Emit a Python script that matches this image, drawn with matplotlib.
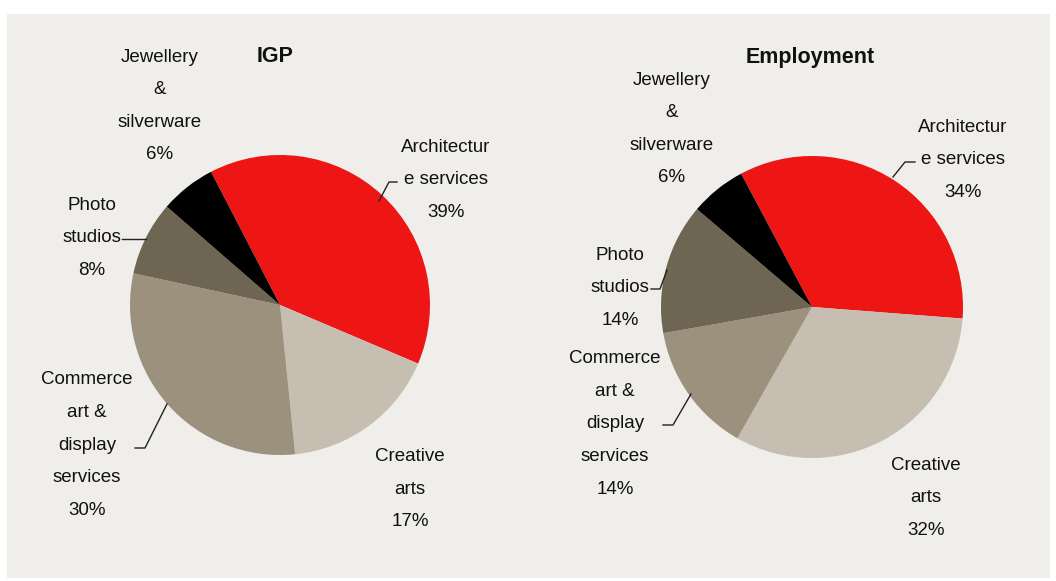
import matplotlib
matplotlib.use("Agg")
import matplotlib.pyplot as plt
from matplotlib.patches import Rectangle

W, H = 1056, 581

categories = ["Architecture services", "Creative arts", "Commerce art & display services",
              "Photo studios", "Jewellery & silverware"]
igp_share = [39, 17, 30, 8, 6]
employment_share = [34, 32, 14, 14, 6]
slice_colors = ["#EE1515", "#C6BEB1", "#9C917C", "#6E6552", "#000000"]

igp_labels = ["Architectur\ne services", "Creative\narts", "Commerce\nart &\ndisplay\nservices",
              "Photo\nstudios", "Jewellery\n&\nsilverware"]
emp_labels = igp_labels

FONT = ["Liberation Sans Narrow", "Liberation Sans", "DejaVu Sans"]

fig = plt.figure(figsize=(W / 100, H / 100), dpi=100, facecolor="white")
ax = fig.add_axes([0, 0, 1, 1])


def fy(y):
    # pixel row (from top) -> axes y
    return H - y


ax.add_patch(Rectangle((7, fy(578)), 1043, 564, facecolor="#EFEEEA", edgecolor="none", zorder=0))


def draw_pie(values, center, radius, start):
    ax.pie(values, colors=slice_colors, startangle=start, counterclock=False,
           center=(center[0], fy(center[1])), radius=radius,
           wedgeprops=dict(linewidth=0), frame=False)


draw_pie(igp_share, (280, 305), 150, 117.4)
draw_pie(employment_share, (812, 307), 151, 118.0)

ax.set_xlim(0, W)
ax.set_ylim(0, H)
ax.set_aspect("equal")
ax.axis("off")


def label(x, y, text, value):
    ax.text(x, fy(y), f"{text}\n{value}%", ha="center", va="center", fontsize=13.5,
            family=FONT, linespacing=2.2, color="#111111", zorder=5)


def leader(points):
    xs = [p[0] for p in points]
    ys = [fy(p[1]) for p in points]
    ax.plot(xs, ys, color="#222222", lw=1.0, zorder=4)


# IGP pie labels
label(446, 180, igp_labels[0], igp_share[0])
label(410, 489, igp_labels[1], igp_share[1])
label(87, 445, igp_labels[2], igp_share[2])
label(92, 238, igp_labels[3], igp_share[3])
label(160, 106, igp_labels[4], igp_share[4])
leader([(397, 182), (389, 182), (379, 201)])
leader([(122, 239), (146, 239)])
leader([(135, 448), (145, 448), (167, 404)])

# Employment pie labels
label(963, 160, emp_labels[0], employment_share[0])
label(926, 498, emp_labels[1], employment_share[1])
label(615, 424, emp_labels[2], employment_share[2])
label(620, 288, emp_labels[3], employment_share[3])
label(672, 129, emp_labels[4], employment_share[4])
leader([(915, 162), (905, 162), (893, 177)])
leader([(651, 289), (660, 289), (667, 270)])
leader([(663, 425), (673, 425), (691, 394)])

# Titles
ax.text(275, fy(57), "IGP", ha="center", va="center", fontsize=15.5, fontweight="bold",
        family=FONT, color="#111111")
ax.text(810, fy(57), "Employment", ha="center", va="center", fontsize=15.5, fontweight="bold",
        family=FONT, color="#111111")

fig.savefig("out.png", dpi=100, facecolor="white")
